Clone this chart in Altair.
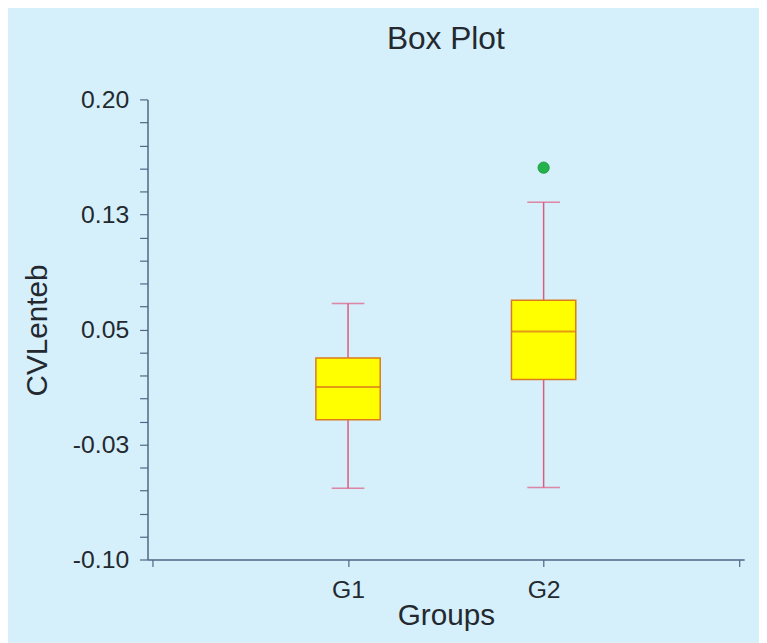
import altair as alt
import pandas as pd

# ---- data ----
groups = ["G1", "G2"]
positions = [1, 2]
whisker_low = [-0.0535, -0.0531]
box_q1 = [-0.0088, 0.0174]
box_median = [0.0125, 0.0486]
box_q3 = [0.0314, 0.0690]
whisker_high = [0.0669, 0.1329]
outlier_groups = ["G2"]
outlier_values = [0.1555]

y_label_values = [-0.10, -0.025, 0.05, 0.125, 0.20]
y_label_texts = ["-0.10", "-0.03", "0.05", "0.13", "0.20"]
y_minor_step = 0.015
x_tick_values = [0, 1, 2, 3]

boxes = pd.DataFrame({
    "group": groups,
    "pos": positions,
    "low": whisker_low,
    "q1": box_q1,
    "median": box_median,
    "q3": box_q3,
    "high": whisker_high,
})
pos_map = dict(zip(groups, positions))
outliers = pd.DataFrame({
    "group": outlier_groups,
    "pos": [pos_map[g] for g in outlier_groups],
    "value": outlier_values,
})

y_ticks = [round(-0.10 + k * y_minor_step, 3) for k in range(21)]
y_expr = "''"
for v, t in zip(y_label_values, y_label_texts):
    y_expr = f"(abs(datum.value - ({v})) < 0.0005 ? '{t}' : {y_expr})"
x_expr = "''"
for p, g in zip(positions, groups):
    x_expr = f"(datum.value == {p} ? '{g}' : {x_expr})"

FONT = "Liberation Sans"
TEXT = "#23292f"
AXIS_C = "#4d6784"
WHISK = "#e05a80"
BOX_STROKE = "#dd7a1c"
MED = "#d4701c"
FILL = "#ffff00"
GREEN = "#24b24a"
BG = "#d5effb"

x_axis = alt.Axis(
    values=x_tick_values, labelExpr=x_expr, title="Groups", grid=False,
    tickSize=7, labelPadding=31, labelBaseline="alphabetic",
    titleY=66, titleBaseline="alphabetic", labelFlush=False,
)
y_axis = alt.Axis(
    values=y_ticks, labelExpr=y_expr, title="CVLenteb", grid=False,
    tickSize=8, labelPadding=11,
    titleX=-111, titleY=233, titleAngle=-90, titleAlign="center",
    titleBaseline="middle",
)
x_scale = alt.Scale(domain=[0, 3], nice=False, zero=False)
y_scale = alt.Scale(domain=[-0.10, 0.20], nice=False, zero=False)


def X():
    return alt.X("pos:Q", scale=x_scale, axis=x_axis)


def Y(field):
    return alt.Y(f"{field}:Q", scale=y_scale, axis=y_axis)


base = alt.Chart(boxes)

whisker = base.mark_rule(color=WHISK, strokeWidth=1.5).encode(
    x=X(), y=Y("low"), y2="high:Q")
cap_low = base.mark_tick(color=WHISK, orient="horizontal", size=33, thickness=1.5).encode(
    x=X(), y=Y("low"))
cap_high = base.mark_tick(color=WHISK, orient="horizontal", size=33, thickness=1.5).encode(
    x=X(), y=Y("high"))
box = base.mark_bar(size=65, color=FILL, stroke=BOX_STROKE, strokeWidth=1.5).encode(
    x=X(), y=Y("q1"), y2="q3:Q")
med = base.mark_tick(color=MED, orient="horizontal", size=65, thickness=2).encode(
    x=X(), y=Y("median"))
outl = alt.Chart(outliers).mark_point(filled=True, size=130, color=GREEN, opacity=1,
                                      stroke="#1a8f3a", strokeWidth=0.8).encode(
    x=X(), y=Y("value"))

chart = alt.layer(whisker, cap_low, cap_high, box, med, outl).properties(
    width=603,
    height=465,
    padding={"left": 141, "top": 89, "right": 15, "bottom": 81},
    autosize=alt.AutoSizeParams(type="none"),
    background=BG,
    title=alt.TitleParams(
        "Box Plot", fontSize=32, font=FONT, fontWeight="normal", color=TEXT,
        frame="group", baseline="alphabetic", offset=7, anchor="middle",
    ),
).configure_view(stroke=None).configure_axis(
    domainColor=AXIS_C, tickColor=AXIS_C, domainWidth=1.5, tickWidth=1.2,
    labelFont=FONT, labelFontSize=25, labelColor=TEXT,
    titleFont=FONT, titleFontSize=30, titleColor=TEXT, titleFontWeight="normal",
)

chart.save("out.html", embed_options={"renderer": "svg", "actions": False})
